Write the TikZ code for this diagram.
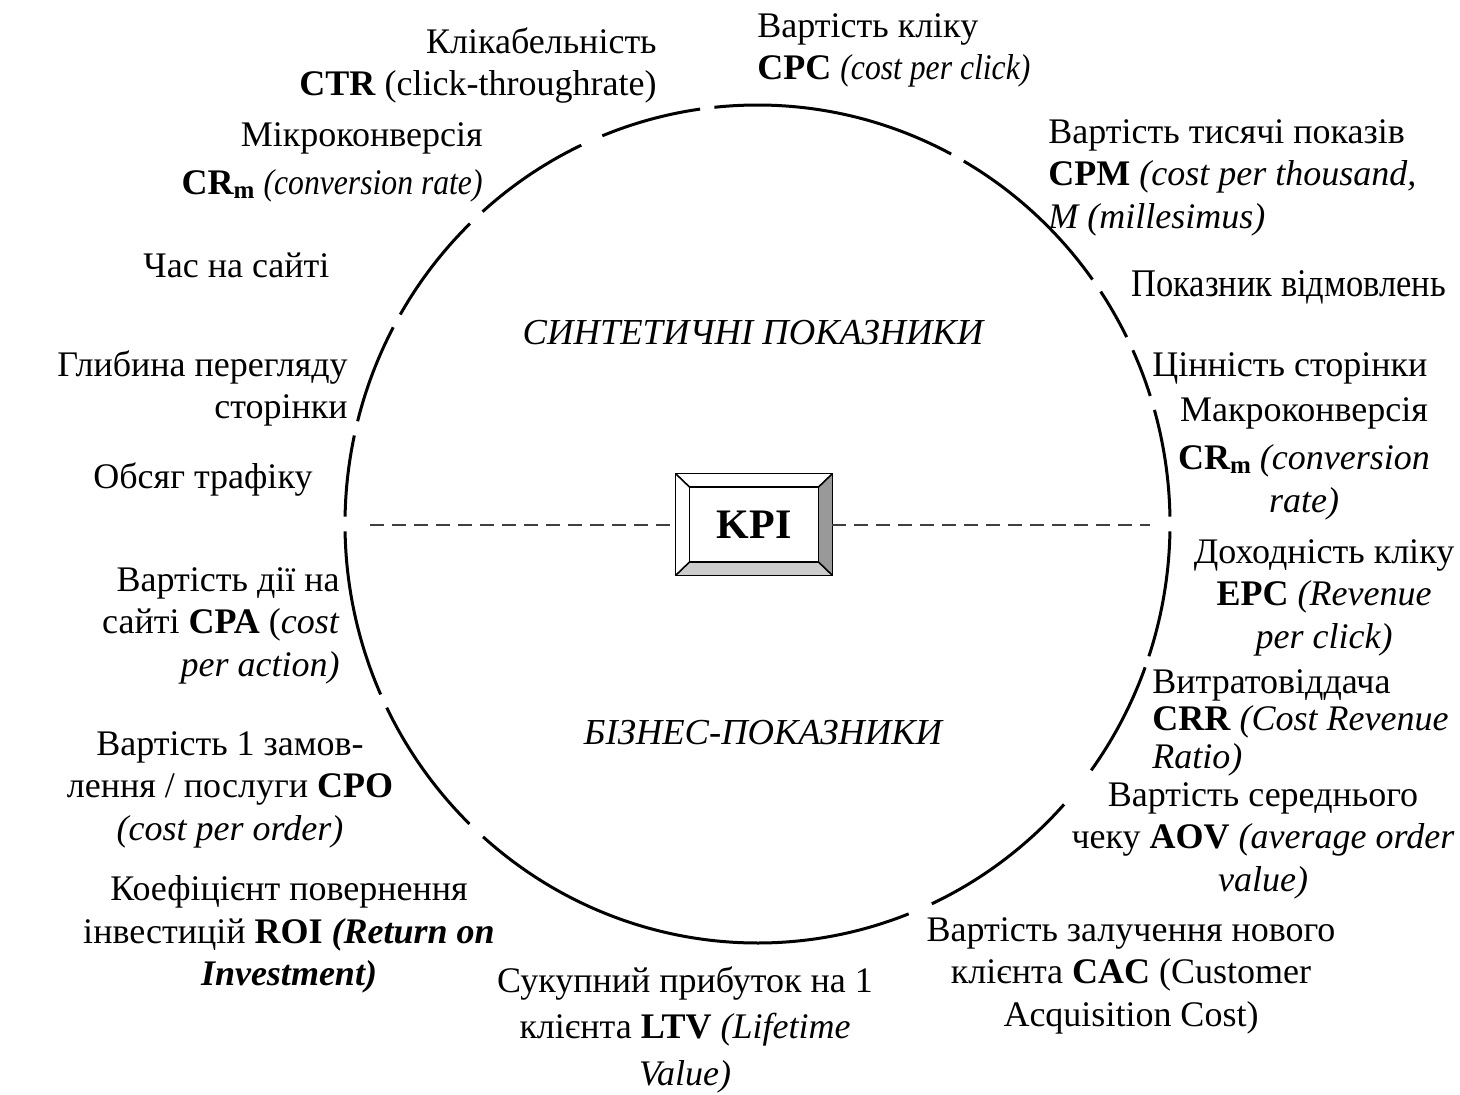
\documentclass[tikz,border=0pt]{standalone}
\usepackage{fontspec}
\setmainfont{Liberation Serif}
\newfontfamily\condfont{Liberation Serif}[FakeStretch=0.88]
\newcommand{\subm}{\raisebox{-0.25ex}{\fontsize{12.5}{12.5}\selectfont\bfseries m}}
\newcommand{\condit}[1]{{\condfont\itshape #1}}
\tikzset{
        rim/.style={line width=1.5pt, draw=black},
        split/.style={line width=1pt, draw=black!75, dash pattern=on 7pt off 4pt},
        lbl/.style={font=\fontsize{18}{21.3}\selectfont, inner sep=0pt, execute at begin node=\strut},
        lblr/.style={lbl, align=right, anchor=north east},
        lbll/.style={lbl, align=left, anchor=north west},
        lblc/.style={lbl, align=center, anchor=north},
        zone/.style={font=\fontsize{18.3}{21}\selectfont\itshape, inner sep=0pt},
        bevel/.style={draw=black, line width=0.8pt}
          }

\begin{document}
\begin{tikzpicture}[x=0.5pt,y=-0.5pt]
        \useasboundingbox (0,0) rectangle (1460,1094);
        \coordinate (ctr) at (757.5,524);
        % circle, broken where the labels come in
        \foreach \a/\b in {1/15.8, 17.8/24.5, 26.5/33.7, 35.7/60, 62/96, 98/112.1,
            115.3/131.8, 134.2/150, 152/165.8, 167.8/179, 181/204, 206/225.7,
            228.3/291.5, 295/318, 324/340, 341.6/359}
          \draw[rim] ([shift={(\a:206.25pt and 209.5pt)}]ctr)
            arc[start angle=\a, end angle=\b, x radius=206.25pt, y radius=209.5pt];

        % KPI box
        \node[minimum width=78pt, minimum height=50.5pt, inner sep=0pt] (kpi) at (754,524.5) {};
        \node[minimum width=64pt, minimum height=37pt, inner sep=0pt] (kpiin) at (kpi.center) {};
        \fill[black!40] (kpi.north east) -- (kpi.south east) -- (kpiin.south east) -- (kpiin.north east) -- cycle;
        \fill[black!20] (kpi.south west) -- (kpi.south east) -- (kpiin.south east) -- (kpiin.south west) -- cycle;
        \draw[bevel] (kpi.north west) rectangle (kpi.south east);
        \draw[bevel] (kpiin.north west) rectangle (kpiin.south east);
        \draw[bevel] (kpi.north west) -- (kpiin.north west);
        \draw[bevel] (kpi.north east) -- (kpiin.north east);
        \draw[bevel] (kpi.south west) -- (kpiin.south west);
        \draw[bevel] (kpi.south east) -- (kpiin.south east);
        \node[font=\fontsize{21}{21}\selectfont\bfseries] (kpitext) at (kpiin.center) {KPI};

        \coordinate (wl) at (370,524.5);
        \coordinate (wr) at (1150,524.5);
        \draw[split] (wl) -- (kpi.west);
        \draw[split] (kpi.east) -- (wr);

        \node[zone] (synth) at (753,333) {СИНТЕТИЧНІ ПОКАЗНИКИ};
        \node[zone] (biz) at (763,733) {БІЗНЕС-ПОКАЗНИКИ};

        % left side
        \node[lblr] (ctr-l) at (657,27) {Клікабельність\\\textbf{CTR} (click-throughrate)};
        \node[lblr] (crmicro) at (483,122) {Мікроконверсія\\[3pt]\textbf{CR\subm} \condit{(conversion rate)}};
        \node[lbll] (time) at (143,247) {Час на сайті};
        \node[lblr] (depth) at (348,350) {Глибина перегляду\\сторінки};
        \node[lbll] (traffic) at (93,458) {Обсяг трафіку};
        \node[lblr] (cpa) at (340,567) {Вартість дії на\\сайті \textbf{CPA} (\textit{cost}\\\textit{per action)}};
        \node[lblc] (cpo) at (230,731) {Вартість 1 замов-\\лення / послуги \textbf{CPO}\\\textit{(cost per order)}};
        \node[lblc] (roi) at (289,875) {Коефіцієнт повернення\\інвестицій \textbf{ROI \textit{(Return on}}\\\textbf{\textit{Investment)}}};
        \node[lblc] (ltv) at (685,966) {Сукупний прибуток на 1\\[2pt]клієнта \textbf{LTV} \textit{(Lifetime}\\[2pt]\textit{Value)}};

        % right side
        \node[lbll] (cpc) at (757,13) {Вартість кліку\\\textbf{CPC} \condit{(cost per click)}};
        \node[lbll] (cpm) at (1048,119) {Вартість тисячі показів\\\textbf{CPM} \textit{(cost per thousand,}\\\textit{M (millesimus)}};
        \node[lbll, font=\condfont\fontsize{19.6}{21.3}\selectfont] (bounce) at (1131,266) {Показник відмовлень};
        \node[lbll] (pagev) at (1152,346) {Цінність сторінки};
        \node[lblc] (crmacro) at (1304,397) {Макроконверсія\\[3pt]\textbf{CR\subm} \textit{(conversion}\\\textit{rate)}};
        \node[lblc] (epc) at (1324,539) {Доходність кліку\\\textbf{EPC} \textit{(Revenue}\\\textit{per click)}};
        \node[lbll] (crr) at (1152,669) {Витратовіддача\\[-2.5pt]\textbf{CRR} \textit{(Cost Revenue}\\[-2.5pt]\textit{Ratio)}};
        \node[lblc] (aov) at (1263,782) {Вартість середнього\\чеку \textbf{AOV} \textit{(average order}\\\textit{value)}};
        \node[lblc] (cac) at (1131,917) {Вартість залучення нового\\клієнта \textbf{CAC} (Customer\\Acquisition Cost)};
\end{tikzpicture}
\end{document}
